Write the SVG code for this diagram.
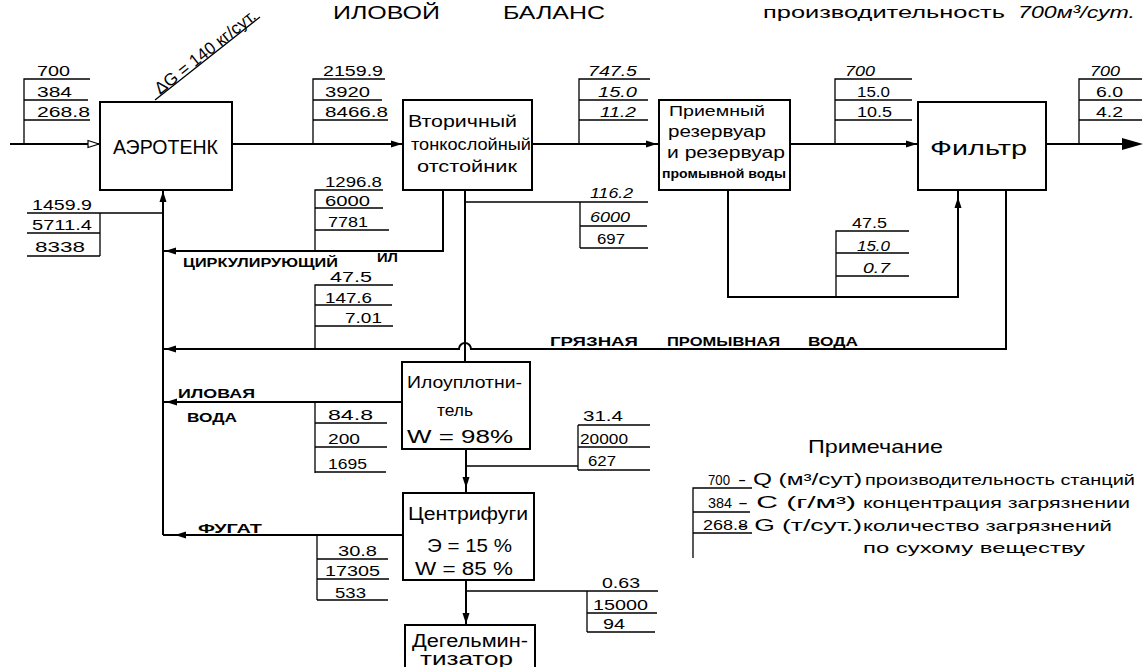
<svg xmlns="http://www.w3.org/2000/svg" xmlns:xlink="http://www.w3.org/1999/xlink" width="1147" height="667" viewBox="0 0 1147 667">
<style>
.t{font-family:"Liberation Sans","DejaVu Sans",sans-serif;fill:#000}
.n{font-size:15px}
.lb{font-size:13px;font-weight:bold}
.bx{font-size:17px}
.f{stroke:#000;stroke-width:2;fill:none}
.l{stroke:#000;stroke-width:1.3;fill:none}
.box{fill:#fff;stroke:#000;stroke-width:2}
</style>
<defs>
<path id="ah" d="M0,0 L-11,-3.5 L-11,3.5 Z" fill="#000"/>
<path id="aho" d="M0,0 L-11,-3.5 L-11,3.5 Z" fill="#fff" stroke="#000" stroke-width="1.2"/>
</defs>
<rect width="1147" height="667" fill="#fff"/>

<g id="title" class="t">
<text x="333" y="19" font-size="19" textLength="107" lengthAdjust="spacingAndGlyphs">ИЛОВОЙ</text>
<text x="503" y="19" font-size="19" textLength="102" lengthAdjust="spacingAndGlyphs">БАЛАНС</text>
<text x="763" y="18" font-size="17" textLength="242" lengthAdjust="spacingAndGlyphs">производительность</text>
<text x="1018" y="18" font-size="17" font-style="italic" textLength="117" lengthAdjust="spacingAndGlyphs">700м³/сут.</text>
</g>

<g id="connectors">
<path class="f" d="M10,144 H100"/>
<path class="f" d="M232,144 H403"/>
<path class="f" d="M532,144 H659"/>
<path class="f" d="M790,144 H918"/>
<path class="f" d="M1046,144 H1122"/>
<path class="f" d="M163,190 V535"/>
<path class="f" d="M443,190 V251 H163"/>
<path class="f" d="M465,190 V362"/>
<path class="f" d="M1006,190 V349 H471 A6,6 0 0 0 459,349 H163"/>
<path class="f" d="M728,190 V297 H958 V190"/>
<path class="f" d="M402,402 H163"/>
<path class="f" d="M466,449 V493"/>
<path class="f" d="M403,535 H163"/>
<path class="f" d="M466,580 V625"/>
<use xlink:href="#aho" transform="translate(99,144)"/>
<use xlink:href="#ah" transform="translate(402,144)"/>
<use xlink:href="#ah" transform="translate(657,144)"/>
<use xlink:href="#ah" transform="translate(917,144)"/>
<path d="M1143,144 L1122,138 L1122,150 Z" fill="#000"/>
<use xlink:href="#ah" transform="translate(163,191) rotate(-90)"/>
<use xlink:href="#ah" transform="translate(165,251) rotate(180)"/>
<use xlink:href="#ah" transform="translate(165,349) rotate(180)"/>
<use xlink:href="#ah" transform="translate(166,402) rotate(180)"/>
<use xlink:href="#ah" transform="translate(175,535) rotate(180)"/>
<use xlink:href="#ah" transform="translate(466,488) rotate(90)"/>
<use xlink:href="#ah" transform="translate(466,624) rotate(90)"/>
<use xlink:href="#ah" transform="translate(958,197) rotate(-90)"/>
</g>

<g id="dG">
<path class="l" d="M155,100 L260,17"/>
<text class="t" font-size="17" transform="translate(160,95) rotate(-38.3)" textLength="124" lengthAdjust="spacingAndGlyphs">ΔG = 140 кг/сут.</text>
</g>

<g id="aerotank">
<rect class="box" x="100" y="102" width="132" height="88"/>
<text class="t" x="113" y="154" font-size="21" textLength="105" lengthAdjust="spacingAndGlyphs">АЭРОТЕНК</text>
</g>

<g id="settler">
<rect class="box" x="403" y="100" width="129" height="90"/>
<text class="t bx" x="408" y="127" textLength="109" lengthAdjust="spacingAndGlyphs">Вторичный</text>
<text class="t bx" x="411" y="150" textLength="120" lengthAdjust="spacingAndGlyphs">тонкослойный</text>
<text class="t bx" x="417" y="172" textLength="100" lengthAdjust="spacingAndGlyphs">отстойник</text>
</g>

<g id="reservoir">
<rect class="box" x="659" y="100" width="131" height="90"/>
<text class="t" x="669" y="116" font-size="15" textLength="96" lengthAdjust="spacingAndGlyphs">Приемный</text>
<text class="t" x="668" y="137" font-size="16" textLength="98" lengthAdjust="spacingAndGlyphs">резервуар</text>
<text class="t" x="667" y="158" font-size="16" textLength="118" lengthAdjust="spacingAndGlyphs">и резервуар</text>
<text class="t" x="662" y="178" font-size="12" font-weight="bold" textLength="124" lengthAdjust="spacingAndGlyphs">промывной воды</text>
</g>

<g id="filter">
<rect class="box" x="918" y="102" width="128" height="88"/>
<text class="t" x="930" y="155" font-size="21" textLength="97" lengthAdjust="spacingAndGlyphs">Фильтр</text>
</g>

<g id="thickener">
<rect class="box" x="402" y="362" width="128" height="87"/>
<text class="t" x="407" y="388" font-size="16" textLength="115" lengthAdjust="spacingAndGlyphs">Илоуплотни-</text>
<text class="t" x="437" y="416" font-size="16" textLength="36" lengthAdjust="spacingAndGlyphs">тель</text>
<text class="t" x="407" y="443" font-size="18" textLength="106" lengthAdjust="spacingAndGlyphs">W = 98%</text>
</g>

<g id="centrifuge">
<rect class="box" x="403" y="493" width="131" height="87"/>
<text class="t" x="408" y="520" font-size="18" textLength="120" lengthAdjust="spacingAndGlyphs">Центрифуги</text>
<text class="t" x="427" y="552" font-size="18" textLength="85" lengthAdjust="spacingAndGlyphs">Э = 15 %</text>
<text class="t" x="415" y="575" font-size="18" textLength="98" lengthAdjust="spacingAndGlyphs">W = 85 %</text>
</g>

<g id="degelm">
<rect class="box" x="405" y="625" width="130" height="50"/>
<text class="t" x="412" y="647" font-size="18" textLength="116" lengthAdjust="spacingAndGlyphs">Дегельмин-</text>
<text class="t" x="420" y="665" font-size="18" textLength="93" lengthAdjust="spacingAndGlyphs">тизатор</text>
</g>

<g id="tables" class="t n">
<path class="l" d="M24,144 V79 H90 M24,100 H88 M24,120 H90"/>
<text x="37" y="76" textLength="33" lengthAdjust="spacingAndGlyphs">700</text>
<text x="37" y="97" textLength="35" lengthAdjust="spacingAndGlyphs">384</text>
<text x="37" y="117" textLength="53" lengthAdjust="spacingAndGlyphs">268.8</text>
<path class="l" d="M313,144 V79 H385 M313,100 H382 M313,120 H388"/>
<text x="323" y="76" textLength="60" lengthAdjust="spacingAndGlyphs">2159.9</text>
<text x="325" y="97" textLength="45" lengthAdjust="spacingAndGlyphs">3920</text>
<text x="325" y="117" textLength="63" lengthAdjust="spacingAndGlyphs">8466.8</text>
<path class="l" d="M579,144 V79 H650 M579,100 H648 M579,120 H648"/>
<text x="588" y="76" font-style="italic" textLength="49" lengthAdjust="spacingAndGlyphs">747.5</text>
<text x="598" y="97" font-style="italic" textLength="39" lengthAdjust="spacingAndGlyphs">15.0</text>
<text x="600" y="117" font-style="italic" textLength="36" lengthAdjust="spacingAndGlyphs">11.2</text>
<path class="l" d="M835,144 V79 H912 M835,100 H912 M835,120 H912"/>
<text x="845" y="76" font-style="italic" textLength="30" lengthAdjust="spacingAndGlyphs">700</text>
<text x="857" y="97" textLength="33" lengthAdjust="spacingAndGlyphs">15.0</text>
<text x="857" y="117" textLength="35" lengthAdjust="spacingAndGlyphs">10.5</text>
<path class="l" d="M1079,144 V79 H1142 M1079,100 H1142 M1079,120 H1142"/>
<text x="1090" y="76" font-style="italic" textLength="30" lengthAdjust="spacingAndGlyphs">700</text>
<text x="1096" y="97" textLength="27" lengthAdjust="spacingAndGlyphs">6.0</text>
<text x="1096" y="117" textLength="27" lengthAdjust="spacingAndGlyphs">4.2</text>
<path class="l" d="M27,213 H163 M100,213 V256 M27,233 H100 M27,256 H100"/>
<text x="32" y="210" textLength="60" lengthAdjust="spacingAndGlyphs">1459.9</text>
<text x="32" y="230" textLength="60" lengthAdjust="spacingAndGlyphs">5711.4</text>
<text x="35" y="252" textLength="50" lengthAdjust="spacingAndGlyphs">8338</text>
<path class="l" d="M315,251 V190 H383 M315,208 H383 M315,230 H389"/>
<text x="325" y="187" textLength="57" lengthAdjust="spacingAndGlyphs">1296.8</text>
<text x="325" y="206" textLength="45" lengthAdjust="spacingAndGlyphs">6000</text>
<text x="328" y="227" textLength="40" lengthAdjust="spacingAndGlyphs">7781</text>
<path class="l" d="M315,349 V285 H393 M315,305 H392 M315,326 H393"/>
<text x="330" y="282" textLength="42" lengthAdjust="spacingAndGlyphs">47.5</text>
<text x="325" y="303" textLength="47" lengthAdjust="spacingAndGlyphs">147.6</text>
<text x="345" y="323" textLength="37" lengthAdjust="spacingAndGlyphs">7.01</text>
<path class="l" d="M465,202 H648 M580,202 V248 M580,226 H647 M580,248 H648"/>
<text x="590" y="198" font-style="italic" textLength="43" lengthAdjust="spacingAndGlyphs">116.2</text>
<text x="590" y="222" font-style="italic" textLength="40" lengthAdjust="spacingAndGlyphs">6000</text>
<text x="597" y="244" textLength="28" lengthAdjust="spacingAndGlyphs">697</text>
<path class="l" d="M836,297 V231 H909 M836,253 H909 M836,276 H909"/>
<text x="852" y="228" textLength="35" lengthAdjust="spacingAndGlyphs">47.5</text>
<text x="857" y="251" font-style="italic" textLength="33" lengthAdjust="spacingAndGlyphs">15.0</text>
<text x="863" y="273" font-style="italic" textLength="27" lengthAdjust="spacingAndGlyphs">0.7</text>
<path class="l" d="M315,402 V473 M315,423 H387 M315,447 H387 M315,472 H386"/>
<text x="328" y="420" textLength="45" lengthAdjust="spacingAndGlyphs">84.8</text>
<text x="328" y="444" textLength="32" lengthAdjust="spacingAndGlyphs">200</text>
<text x="328" y="469" textLength="39" lengthAdjust="spacingAndGlyphs">1695</text>
<path class="l" d="M466,466 H578 M578,425 V470 M578,425 H650 M578,447 H650 M578,470 H650"/>
<text x="583" y="421" textLength="40" lengthAdjust="spacingAndGlyphs">31.4</text>
<text x="580" y="444" textLength="48" lengthAdjust="spacingAndGlyphs">20000</text>
<text x="588" y="466" textLength="28" lengthAdjust="spacingAndGlyphs">627</text>
<path class="l" d="M317,535 V600 M317,559 H388 M317,579 H389 M317,600 H388"/>
<text x="338" y="556" textLength="39" lengthAdjust="spacingAndGlyphs">30.8</text>
<text x="325" y="576" textLength="55" lengthAdjust="spacingAndGlyphs">17305</text>
<text x="335" y="598" textLength="31" lengthAdjust="spacingAndGlyphs">533</text>
<path class="l" d="M466,591 H658 M587,591 V632 M587,613 H657 M587,632 H655"/>
<text x="602" y="588" textLength="38" lengthAdjust="spacingAndGlyphs">0.63</text>
<text x="593" y="610" textLength="55" lengthAdjust="spacingAndGlyphs">15000</text>
<text x="603" y="629" textLength="22" lengthAdjust="spacingAndGlyphs">94</text>
</g>

<g id="labels" class="t lb">
<text x="183" y="267" textLength="155" lengthAdjust="spacingAndGlyphs">ЦИРКУЛИРУЮЩИЙ</text>
<text x="377" y="262" textLength="21" lengthAdjust="spacingAndGlyphs">ИЛ</text>
<text x="550" y="346" textLength="88" lengthAdjust="spacingAndGlyphs">ГРЯЗНАЯ</text>
<text x="667" y="346" textLength="113" lengthAdjust="spacingAndGlyphs">ПРОМЫВНАЯ</text>
<text x="808" y="346" textLength="50" lengthAdjust="spacingAndGlyphs">ВОДА</text>
<text x="178" y="398" textLength="77" lengthAdjust="spacingAndGlyphs">ИЛОВАЯ</text>
<text x="187" y="422" textLength="50" lengthAdjust="spacingAndGlyphs">ВОДА</text>
<text x="198" y="533" textLength="64" lengthAdjust="spacingAndGlyphs">ФУГАТ</text>
</g>

<g id="legend" class="t">
<text x="808" y="453" font-size="19" textLength="135" lengthAdjust="spacingAndGlyphs">Примечание</text>
<path class="l" d="M693,558 V488 H752 M693,512 H750 M693,533 H752"/>
<text x="708" y="485" font-size="14" textLength="22" lengthAdjust="spacingAndGlyphs">700</text>
<text x="708" y="508" font-size="14" textLength="24" lengthAdjust="spacingAndGlyphs">384</text>
<text x="703" y="530" font-size="14" textLength="45" lengthAdjust="spacingAndGlyphs">268.8</text>
<text x="738" y="485" font-size="16" textLength="124" lengthAdjust="spacingAndGlyphs">- Q (м³/сут)</text>
<text x="738" y="508" font-size="16" textLength="118" lengthAdjust="spacingAndGlyphs">- C (г/м³)</text>
<text x="738" y="531" font-size="16" textLength="124" lengthAdjust="spacingAndGlyphs">- G (т/сут.)</text>
<text x="865" y="485" font-size="15" textLength="270" lengthAdjust="spacingAndGlyphs">производительность станций</text>
<text x="863" y="508" font-size="15" textLength="267" lengthAdjust="spacingAndGlyphs">концентрация загрязнении</text>
<text x="863" y="531" font-size="15" textLength="249" lengthAdjust="spacingAndGlyphs">количество загрязнений</text>
<text x="863" y="553" font-size="15" textLength="222" lengthAdjust="spacingAndGlyphs">по сухому веществу</text>
</g>
</svg>
